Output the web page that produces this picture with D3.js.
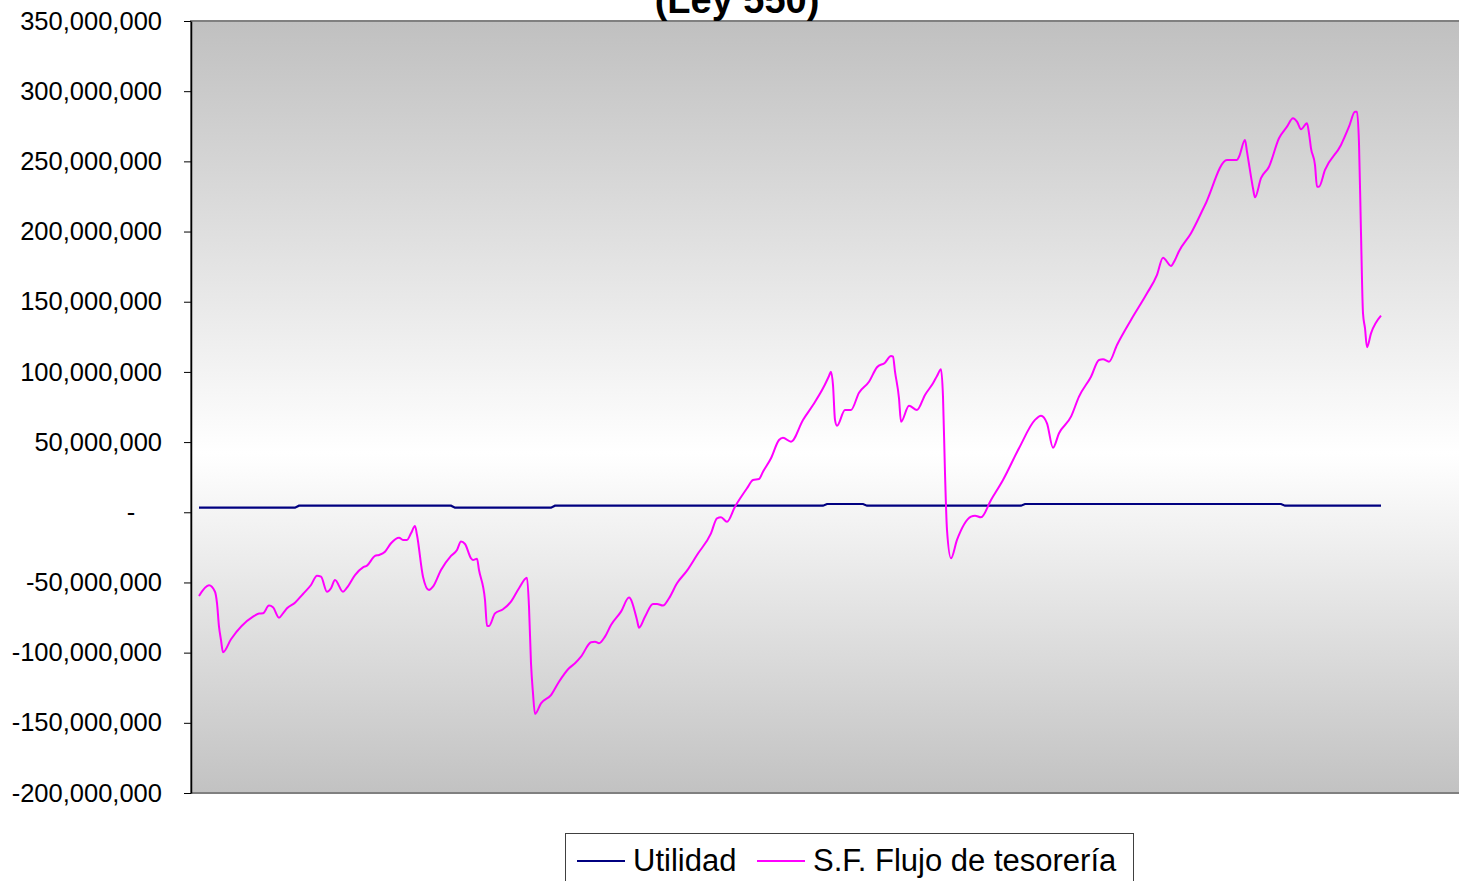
<!DOCTYPE html>
<html>
<head>
<meta charset="utf-8">
<script src="https://cdn.jsdelivr.net/npm/d3@7"></script>
<style>
  body { margin: 0; background: #fff; }
  svg { display: block; font-family: 'Liberation Sans', Arial, sans-serif; }
</style>
</head>
<body>
<svg width="1459" height="881"></svg>
<script>
// values in millions of pesos, periods are the row index of the sheet
const yTicks = [-200, -150, -100, -50, 0, 50, 100, 150, 200, 250, 300, 350]
const seriesNames = ['Utilidad', 'S.F. Flujo de tesorería']

const utilPeriodo = [0, 48, 50, 126, 128, 176, 178, 312, 314, 332, 334, 411, 413, 541, 543, 591]
const utilidad = [3.3, 3.3, 4.7, 4.7, 3.3, 3.3, 4.7, 4.7, 5.9, 5.9, 4.7, 4.7, 5.9, 5.9, 4.7, 4.7]

const flujoPeriodo = [
  0, 5, 8, 9, 10, 11, 12, 16, 27, 30, 32, 35, 37, 40, 42, 44, 48, 52, 56, 59,
  61, 64, 66, 68, 72, 74, 78, 82, 84, 88, 90, 93, 96, 100, 102, 104, 106, 108, 109, 112,
  115, 117, 121, 126, 129, 131, 133, 136, 137, 139, 140, 143, 144, 145, 148, 152, 156, 160, 164, 165,
  166, 167, 168, 171, 176, 180, 185, 188, 191, 196, 198, 200, 203, 206, 211, 215, 219, 220, 223, 227,
  229, 232, 235, 239, 244, 249, 256, 259, 261, 264, 268, 274, 277, 280, 282, 286, 290, 292, 296, 302,
  307, 312, 315, 316, 317, 318, 319, 323, 326, 330, 335, 339, 343, 346, 347, 348, 350, 351, 355, 359,
  363, 367, 369, 371, 372, 373, 374, 376, 379, 386, 388, 391, 396, 402, 410, 418, 421, 424, 427, 430,
  436, 440, 446, 450, 452, 455, 459, 466, 474, 479, 482, 486, 488, 490, 496, 503, 514, 519, 520, 523,
  524, 526, 527, 528, 531, 535, 540, 544, 547, 549, 551, 554, 555, 556, 558, 559, 560, 563, 571, 575,
  578, 579, 580, 581, 582, 583, 584, 586, 591
]
const flujo = [
  -59.6, -52.0, -56.6, -64.8, -81.5, -91.0, -99.7, -90.5, -74.4, -72.2, -72.0, -66.5, -67.7, -75.1, -72.0, -68.4, -64.4, -58.2, -51.8, -45.2,
  -45.9, -56.6, -54.1, -48.2, -56.6, -53.7, -44.7, -39.2, -38.0, -31.1, -30.4, -28.1, -22.1, -18.1, -19.7, -19.7, -15.0, -9.8, -16.2, -45.9,
  -55.4, -53.0, -41.1, -31.1, -26.9, -20.9, -22.6, -32.8, -34.0, -33.1, -41.1, -62.5, -80.8, -81.0, -72.0, -69.1, -63.7, -54.1, -46.6, -67.3,
  -107.6, -129.0, -143.7, -136.1, -130.2, -120.7, -111.1, -107.6, -102.9, -92.6, -92.2, -93.3, -88.6, -80.3, -70.8, -60.8, -76.7, -82.2, -74.4, -65.3,
  -65.3, -66.5, -61.3, -50.6, -41.6, -30.4, -15.0, -4.3, -3.6, -6.7, 4.0, 17.1, 23.0, 23.7, 28.9, 38.5, 51.5, 53.1, 50.3, 65.8,
  76.4, 88.3, 97.1, 100.2, 90.7, 65.8, 61.7, 72.9, 72.9, 85.2, 93.0, 103.3, 106.6, 111.4, 110.9, 100.2, 81.2, 64.5, 75.9, 72.9,
  83.6, 91.9, 97.1, 101.9, 82.4, 27.8, -12.6, -32.8, -19.7, -3.1, -2.4, -3.6, 8.8, 23.0, 45.6, 65.8, 68.8, 63.4, 46.0, 56.3,
  68.1, 82.4, 96.6, 108.5, 109.0, 107.3, 119.2, 137.0, 156.0, 169.1, 181.4, 175.5, 179.8, 186.0, 198.8, 218.9, 251.0, 251.0, 253.3, 265.2,
  256.9, 239.1, 230.8, 224.4, 238.0, 246.2, 266.5, 274.7, 280.7, 278.3, 272.9, 277.1, 270.0, 259.3, 247.4, 232.0, 232.0, 243.9, 261.7, 274.7,
  285.4, 285.4, 262.9, 198.8, 141.8, 131.1, 117.6, 127.5, 140.1
]

const svg = d3.select('svg')
const plot = {left: 191, top: 21, right: 1480, bottom: 793}

// Scales
const x = d3.scaleLinear().domain([0, 591]).range([199, 1381])
const y = d3.scaleLinear().domain([-200, 350]).range([plot.bottom, plot.top])

// grey - white - grey background like the excel plot area
const grad = svg.append('defs').append('linearGradient')
  .attr('id', 'bg').attr('x1', 0).attr('y1', 0).attr('x2', 0).attr('y2', 1)
grad.append('stop').attr('offset', '0%').attr('stop-color', '#c0c0c0')
grad.append('stop').attr('offset', '56%').attr('stop-color', '#ffffff')
grad.append('stop').attr('offset', '100%').attr('stop-color', '#c2c2c2')

svg.append('rect')
  .attr('x', plot.left).attr('y', plot.top)
  .attr('width', plot.right - plot.left).attr('height', plot.bottom - plot.top)
  .attr('fill', 'url(#bg)')
  .attr('stroke', '#808080').attr('stroke-width', 2)

// excel writes a plain hyphen for negatives, d3 would use the unicode minus
const fmt = d3.format(',')
const yLabel = d => d === 0 ? '-' : fmt(d * 1e6).replace('\u2212', '-')

// y axis
const yAxis = svg.append('g')
  .attr('transform', 'translate(' + plot.left + ',0)')
  .call(d3.axisLeft(y)
    .tickValues(yTicks)
    .tickSize(7)
    .tickSizeOuter(0)
    .tickPadding(22)
    .tickFormat(yLabel))
yAxis.select('.domain').attr('stroke', '#000').attr('stroke-width', 1.5)
yAxis.selectAll('.tick line').attr('stroke', '#000')
yAxis.selectAll('.tick text')
  .attr('font-size', 25.5)
  .attr('font-family', "'Liberation Sans', Arial, sans-serif")
  .attr('fill', '#000')
// the zero label is just a dash, sitting more to the middle
yAxis.selectAll('.tick text').filter(d => d === 0)
  .attr('text-anchor', 'middle').attr('x', -60)

// lines
const utilLine = d3.line()
  .x((d, i) => x(utilPeriodo[i]))
  .y(d => y(d))
const flujoLine = d3.line()
  .x((d, i) => x(flujoPeriodo[i]))
  .y(d => y(d))
  .curve(d3.curveMonotoneX)

svg.append('path')
  .attr('d', utilLine(utilidad))
  .attr('fill', 'none').attr('stroke', '#000080').attr('stroke-width', 2.2)
svg.append('path')
  .attr('d', flujoLine(flujo))
  .attr('fill', 'none').attr('stroke', '#ff00ff').attr('stroke-width', 2)

// title, the first line is out of the picture
svg.append('text')
  .attr('x', 737).attr('y', 13)
  .attr('text-anchor', 'middle')
  .attr('font-size', 38).attr('font-weight', 'bold')
  .text('(Ley 550)')

// legend
const legend = svg.append('g')
legend.append('rect')
  .attr('x', 565.5).attr('y', 833.5).attr('width', 568).attr('height', 60)
  .attr('fill', '#fff').attr('stroke', '#404040').attr('stroke-width', 1)
const legendItems = [
  {name: seriesNames[0], color: '#000080', x: 577},
  {name: seriesNames[1], color: '#ff00ff', x: 757}
]
legendItems.forEach(item => {
  legend.append('line')
    .attr('x1', item.x).attr('x2', item.x + 48)
    .attr('y1', 861).attr('y2', 861)
    .attr('stroke', item.color).attr('stroke-width', 2)
  legend.append('text')
    .attr('x', item.x + 56).attr('y', 871)
    .attr('font-size', 31)
    .text(item.name)
})
</script>
</body>
</html>
